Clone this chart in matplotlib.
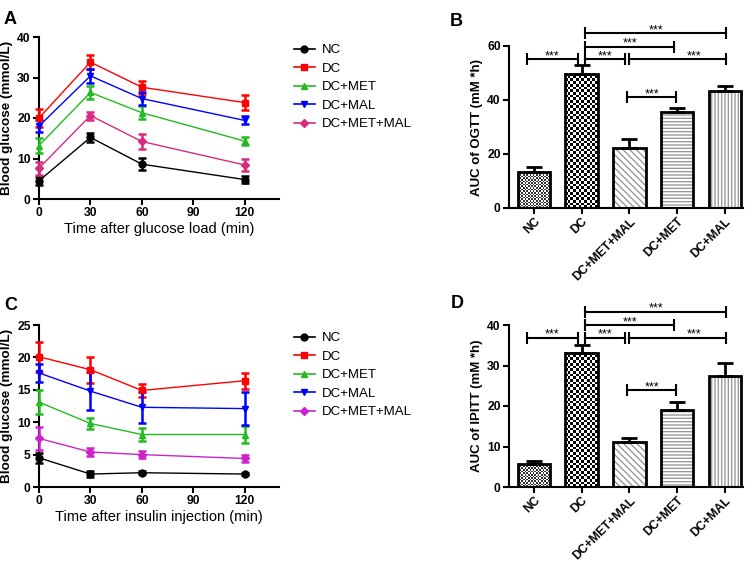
import numpy as np
import matplotlib
matplotlib.use("Agg")
import matplotlib.pyplot as plt
from matplotlib.lines import Line2D

plt.rcParams['font.family'] = ['Liberation Sans', 'DejaVu Sans']
plt.rcParams['hatch.linewidth'] = 1.0

# ---------------- data ----------------
time_points = [0, 30, 60, 120]
groups_line = ["NC", "DC", "DC+MET", "DC+MAL", "DC+MET+MAL"]

ogtt_nc = [4.5, 15.2, 8.6, 4.8]
ogtt_nc_err = [1.0, 1.2, 1.5, 0.8]
ogtt_dc = [20.0, 33.8, 27.6, 23.8]
ogtt_dc_err = [2.3, 1.7, 1.6, 1.8]
ogtt_met = [13.2, 26.3, 21.3, 14.3]
ogtt_met_err = [1.8, 1.6, 1.6, 1.0]
ogtt_mal = [18.0, 30.4, 24.8, 19.4]
ogtt_mal_err = [1.4, 1.8, 1.6, 1.0]
ogtt_metmal = [7.6, 20.6, 14.2, 8.4]
ogtt_metmal_err = [1.6, 1.0, 1.8, 1.5]

ipitt_nc = [4.5, 2.0, 2.2, 2.0]
ipitt_nc_err = [0.8, 0.4, 0.2, 0.2]
ipitt_dc = [20.1, 18.1, 14.9, 16.4]
ipitt_dc_err = [2.3, 2.0, 1.0, 1.2]
ipitt_met = [13.1, 9.8, 8.1, 8.1]
ipitt_met_err = [1.8, 0.9, 1.0, 1.3]
ipitt_mal = [17.6, 14.8, 12.3, 12.1]
ipitt_mal_err = [1.4, 2.9, 2.4, 2.5]
ipitt_metmal = [7.5, 5.4, 5.0, 4.4]
ipitt_metmal_err = [1.8, 0.6, 0.5, 0.5]

bar_groups = ["NC", "DC", "DC+MET+MAL", "DC+MET", "DC+MAL"]
auc_ogtt = [13.5, 49.7, 22.3, 35.4, 43.5]
auc_ogtt_err = [1.6, 3.2, 3.3, 1.7, 1.8]
auc_ipitt = [5.6, 33.2, 11.1, 18.9, 27.4]
auc_ipitt_err = [0.7, 1.8, 1.1, 2.1, 3.1]

# significance brackets: (group i, group j, height)
sig_ogtt = [(0, 1, 55.1), (1, 2, 55.1), (2, 4, 55.1), (1, 3, 59.7), (1, 4, 64.7), (2, 3, 41.0)]
sig_ipitt = [(0, 1, 36.9), (1, 2, 36.9), (2, 4, 36.9), (1, 3, 40.0), (1, 4, 43.3), (2, 3, 23.9)]
sig_label = "***"

# ---------------- style ----------------
W, H = 752, 564
fig = plt.figure(figsize=(W / 100, H / 100), dpi=100)

def axrect(l, t, r, b):
    return [l / W, 1 - b / H, (r - l) / W, (b - t) / H]

base_colors = ["#000000", "#ff0000", "#22bb22", "#0000ff"]
base_markers = ["o", "s", "^", "v", "D"]

def style_axes(ax):
    for s in ["top", "right"]:
        ax.spines[s].set_visible(False)
    for s in ["left", "bottom"]:
        ax.spines[s].set_linewidth(1.5)
    ax.tick_params(width=1.5, length=4, labelsize=8.7, pad=2)
    for lab in ax.get_xticklabels() + ax.get_yticklabels():
        lab.set_fontweight("bold")

def line_panel(ax, series, errs, pink, ylim, yticks, xlabel):
    colors = base_colors + [pink]
    for vals, err, c, m, name in zip(series, errs, colors, base_markers, groups_line):
        ax.errorbar(time_points, vals, yerr=err, color=c, marker=m,
                    ms=5 if m != "D" else 4.5, lw=1.0, elinewidth=1.8,
                    capsize=3, capthick=1.8, clip_on=False, zorder=3, label=name)
    ax.set_xlim(0, 140)
    ax.set_ylim(*ylim)
    ax.set_xticks([0, 30, 60, 90, 120])
    ax.set_yticks(yticks)
    ax.set_xlabel(xlabel, fontsize=10.5, labelpad=2)
    ax.set_ylabel("Blood glucose (mmol/L)", fontsize=9.7, fontweight="bold", labelpad=3)
    style_axes(ax)
    lh = [Line2D([], [], color=c, marker=m, ms=5 if m != "D" else 4.5, lw=1.2)
          for c, m in zip(colors, base_markers)]
    ax.legend(lh, groups_line, loc="upper left", bbox_to_anchor=(1.04, 0.99),
              frameon=False, fontsize=9.5, handlelength=1.6, handletextpad=0.5,
              labelspacing=0.48, borderaxespad=0)

def checker(ax, x0, x1, y1, cell_px, color):
    # checkerboard texture filling the bar
    p0 = ax.transData.transform((x0, 0))
    p1 = ax.transData.transform((x1, y1))
    nx = max(1, int(round((p1[0] - p0[0]) / cell_px)))
    ny = max(1, int(round((p1[1] - p0[1]) / cell_px)))
    img = (np.add.outer(np.arange(ny), np.arange(nx)) % 2)
    rgba = np.ones((ny, nx, 4))
    rgba[img == 1, :3] = matplotlib.colors.to_rgb(color)
    ax.imshow(rgba, extent=(x0, x1, 0, y1), origin="lower", interpolation="nearest",
              aspect="auto", zorder=1)

def bar_panel(ax, vals, errs, sigs, ylim, yticks, ylabel):
    x = np.arange(len(vals))
    bw = 0.68
    ax.set_xlim(-0.52, 4.38)
    ax.set_ylim(*ylim)
    hatches = [None, None, "\\\\\\\\\\", "-----", "|||||"]
    for i in (2, 3, 4):
        ax.bar(x[i], vals[i], width=bw, color="white", edgecolor="#9a9a9a",
               hatch=hatches[i], lw=0, zorder=1)
    fig.canvas.draw()
    checker(ax, x[0] - bw / 2, x[0] + bw / 2, vals[0], 1.6, "#333333")
    checker(ax, x[1] - bw / 2, x[1] + bw / 2, vals[1], 2.7, "#000000")
    ax.set_xlim(-0.52, 4.38)
    ax.set_ylim(*ylim)
    ax.bar(x, vals, width=bw, fill=False, edgecolor="black", lw=2, zorder=2)
    ax.errorbar(x, vals, yerr=[np.zeros(len(errs)), errs], fmt="none", ecolor="black",
                elinewidth=2, capsize=6, capthick=2, zorder=3)
    ax.set_xticks(x)
    ax.set_xticklabels(bar_groups, rotation=45, ha="right", rotation_mode="anchor")
    ax.set_yticks(yticks)
    ax.set_ylabel(ylabel, fontsize=9.5, fontweight="bold", labelpad=3)
    style_axes(ax)
    ax.tick_params(axis="x", labelsize=8.7, pad=1.5)
    for lab in ax.get_xticklabels():
        lab.set_fontweight("bold")
    # brackets
    start_off = {0: -0.15, 1: 0.08, 2: -0.04}
    for i, j, h in sigs:
        xs = x[i] + start_off[i]
        if i == 2 and j == 4:
            xs = x[i] + 0.0
        if j == 1:
            xe = x[j] - 0.08
        elif j == 2:
            xe = x[j] - 0.09
        elif j == 4:
            xe = x[j] + 0.02
        else:
            xe = x[j] - (0.07 if i == 1 else 0.03)
        ax.plot([xs, xe], [h, h], color="black", lw=1.5, clip_on=False, zorder=4)
        ax.plot([xs, xe], [h, h], color="black", marker="|", ms=8, mew=1.5, lw=0,
                clip_on=False, zorder=4)
        xm = (xs + xe) / 2
        if i == 2 and j == 4:
            xm = 3.35
        ax.annotate(sig_label, (xm, h), xytext=(0, 0), textcoords="offset points",
                    ha="center", va="baseline", fontsize=9, annotation_clip=False)

# Panel A
axA = fig.add_axes(axrect(39, 37, 279, 199))
line_panel(axA,
           [ogtt_nc, ogtt_dc, ogtt_met, ogtt_mal, ogtt_metmal],
           [ogtt_nc_err, ogtt_dc_err, ogtt_met_err, ogtt_mal_err, ogtt_metmal_err],
           "#d62b80", (0, 40), [0, 10, 20, 30, 40], "Time after glucose load (min)")

# Panel C
axC = fig.add_axes(axrect(39, 325, 279, 487))
line_panel(axC,
           [ipitt_nc, ipitt_dc, ipitt_met, ipitt_mal, ipitt_metmal],
           [ipitt_nc_err, ipitt_dc_err, ipitt_met_err, ipitt_mal_err, ipitt_metmal_err],
           "#cc22cc", (0, 25), [0, 5, 10, 15, 20, 25], "Time after insulin injection (min)")

# Panel B
axB = fig.add_axes(axrect(509, 46, 743, 208))
bar_panel(axB, auc_ogtt, auc_ogtt_err, sig_ogtt, (0, 60), [0, 20, 40, 60], "AUC of OGTT (mM *h)")

# Panel D
axD = fig.add_axes(axrect(509, 325, 743, 487))
bar_panel(axD, auc_ipitt, auc_ipitt_err, sig_ipitt, (0, 40), [0, 10, 20, 30, 40], "AUC of IPITT (mM *h)")

for lab, (px, py) in zip("ABCD", [(10, 20), (456, 22), (11, 305), (457, 303)]):
    fig.text(px / W, 1 - py / H, lab, fontsize=13, fontweight="bold", ha="center", va="center")

fig.savefig("out.png", dpi=100)
